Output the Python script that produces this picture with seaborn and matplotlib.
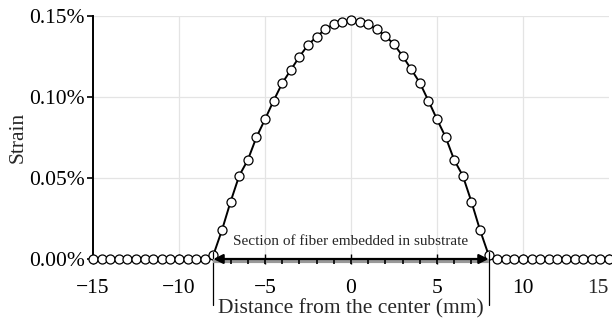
import numpy as np
import pandas as pd
import matplotlib
matplotlib.use("Agg")
import matplotlib.pyplot as plt
from matplotlib.ticker import FuncFormatter
import seaborn as sns

# ---- data (strain in %) ----
distance_mm = [-15, -14.5, -14, -13.5, -13, -12.5, -12, -11.5, -11, -10.5, -10, -9.5, -9, -8.5,
               -8, -7.5, -7, -6.5, -6, -5.5, -5, -4.5, -4, -3.5, -3, -2.5, -2, -1.5, -1, -0.5,
               0, 0.5, 1, 1.5, 2, 2.5, 3, 3.5, 4, 4.5, 5, 5.5, 6, 6.5, 7, 7.5, 8,
               8.5, 9, 9.5, 10, 10.5, 11, 11.5, 12, 12.5, 13, 13.5, 14, 14.5, 15]
strain_pct = [0, 0, 0, 0, 0, 0, 0, 0, 0, 0, 0, 0, 0, 0,
              0.0025, 0.0179, 0.0354, 0.0514, 0.0611, 0.0751, 0.0862, 0.0977, 0.1085, 0.1167,
              0.1249, 0.1321, 0.1372, 0.1418, 0.1449, 0.1461,
              0.1473, 0.1465, 0.1449, 0.1418, 0.1377, 0.1325, 0.1253, 0.1171, 0.1088, 0.0977,
              0.0862, 0.0753, 0.0611, 0.0514, 0.0354, 0.0179, 0.0025,
              0, 0, 0, 0, 0, 0, 0, 0, 0, 0, 0, 0, 0, 0]
x_ticks = [-15, -10, -5, 0, 5, 10, 15]
y_ticks = [0.0, 0.05, 0.10, 0.15]
section_start, section_end = -8, 8
section_label = "Section of fiber embedded in substrate"
x_label = "Distance from the center (mm)"
y_label = "Strain"

df = pd.DataFrame({"x": distance_mm, "y": strain_pct})

sns.set_theme(style="white")
plt.rcParams['font.family'] = ['Liberation Serif', 'DejaVu Serif']

fig = plt.figure(figsize=(6.12, 3.22), dpi=100)
ax = fig.add_axes([93/612, (322-259)/322, (609-93)/612, (259-16)/322])

# grid
for xv in x_ticks[1:-1]:
    ax.axvline(xv, color="#e4e4e4", lw=0.9, zorder=0)
for yv in y_ticks[1:]:
    ax.axhline(yv, color="#e4e4e4", lw=0.9, zorder=0)

sns.lineplot(data=df, x="x", y="y", ax=ax, color="black", lw=1.4,
             marker="o", markersize=6.5, markerfacecolor="white",
             markeredgecolor="black", markeredgewidth=0.9, clip_on=False, zorder=5)

ax.set_xlim(-15, 15)
ax.set_ylim(0, 0.15)
ax.set_xticks(x_ticks)
ax.set_yticks(y_ticks)
ax.yaxis.set_major_formatter(FuncFormatter(lambda v, p: f"{v:.2f}%"))

def xfmt(v, p):
    if v == x_ticks[-1]:
        return ""
    return f"{int(v)}".replace("-", "\u2212")
ax.xaxis.set_major_formatter(FuncFormatter(xfmt))

for s in ["top", "right"]:
    ax.spines[s].set_visible(False)
for s in ["left", "bottom"]:
    ax.spines[s].set_color("black")
    ax.spines[s].set_linewidth(1.4)

ax.tick_params(axis="x", direction="inout", length=7, width=1, colors="black",
               labelsize=15.5, pad=11, bottom=True)
ax.tick_params(axis="y", direction="out", length=4, width=1.2, colors="black",
               labelsize=15.5, pad=2, left=True)

xt = ax.get_xaxis_transform()
# last x tick label, pulled inside the figure edge
ax.annotate(f"{x_ticks[-1]}", xy=(x_ticks[-1], 0), xycoords=xt,
            xytext=(0, -14.5), textcoords="offset points",
            ha="right", va="top", fontsize=15.5, annotation_clip=False)

ax.set_xlabel(x_label, fontsize=15.5, labelpad=1)
ax.set_ylabel(y_label, fontsize=15.5, labelpad=1)

# section annotation: vertical boundary lines
for xb in (section_start, section_end):
    ax.plot([xb, xb], [0.03, -0.19], transform=xt, color="black", lw=0.9,
            clip_on=False, zorder=6)

# gray band + ticks under arrow
ax.plot([section_start, section_end], [-0.008, -0.008], transform=xt,
        color="#999999", lw=3, clip_on=False, zorder=6, solid_capstyle="butt")
ax.vlines(np.arange(section_start + 1, section_end), -0.02, 0, transform=xt,
          color="black", lw=1.2, clip_on=False, zorder=7)
ax.annotate("", xy=(section_start, 0), xytext=(section_end, 0),
            xycoords="data", textcoords="data",
            arrowprops=dict(arrowstyle="<|-|>", color="black", lw=1.6,
                            mutation_scale=14, shrinkA=0, shrinkB=0),
            zorder=8, annotation_clip=False)
ax.text(0, 0.0105, section_label, ha="center", va="center", fontsize=11, zorder=8)

fig.savefig("out.png", dpi=100)
